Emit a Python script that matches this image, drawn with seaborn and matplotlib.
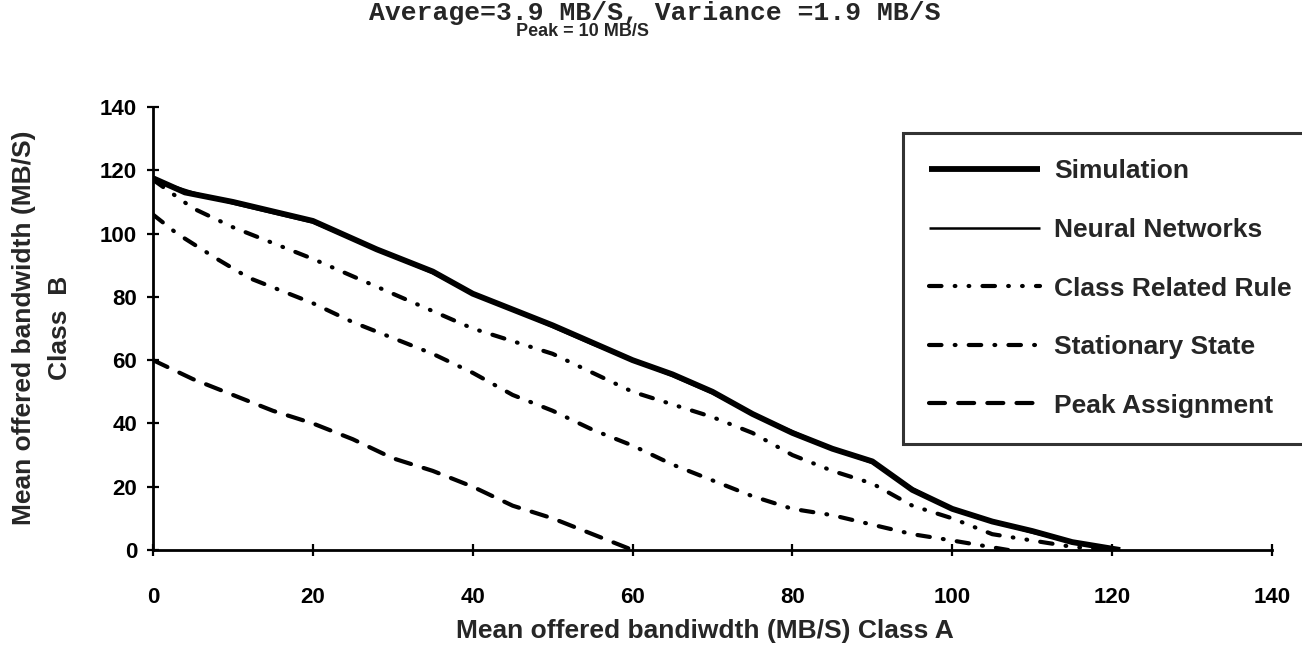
import matplotlib
matplotlib.use("Agg")
import matplotlib.pyplot as plt
import seaborn as sns
import pandas as pd

sns.set_theme(style="white")
plt.rcParams["font.family"] = ["Liberation Sans", "DejaVu Sans"]
plt.rcParams["lines.scale_dashes"] = False

# Class A offered bandwidth (x) vs admissible Class B bandwidth (y), MB/S
sim_x = [0, 4, 10, 20, 28, 35, 40, 45, 50, 55, 60, 65, 70, 75, 80, 85, 90, 95, 100, 105, 110, 115, 121]
sim_y = [117.5, 113, 110, 104, 95, 88, 81, 76, 71, 65.5, 60, 55.5, 50, 43, 37, 32, 28, 19, 13, 9, 6, 2.5, 0]

nn_x = [0, 5, 10, 20, 28, 35, 40, 45, 50, 55, 60, 65, 70, 75, 80, 85, 90, 95, 100, 105, 110, 115, 121]
nn_y = [117, 113, 109.5, 103.5, 95, 87.5, 81, 76, 70.5, 65, 60, 55, 49.5, 43, 37.5, 32, 27.5, 19.5, 13, 9, 5.5, 2.5, 0]

crr_x = [0, 5, 10, 20, 30, 40, 45, 50, 55, 60, 65, 70, 75, 80, 85, 90, 95, 100, 105, 110, 115, 120]
crr_y = [117, 108, 102, 92, 81, 70, 66, 62, 56, 50, 46, 42, 37, 30, 25, 21, 14, 10, 5, 3, 1, 0]

ss_x = [0, 3, 8, 12, 15, 20, 25, 30, 35, 40, 45, 50, 55, 60, 65, 70, 75, 80, 85, 90, 95, 100, 107]
ss_y = [106, 100, 92, 86, 83, 78, 72, 67, 62, 56, 49, 44, 38, 33, 27, 22, 17, 13, 11, 8, 5, 3, 0]

peak_x = [0, 5, 10, 15, 20, 25, 30, 35, 40, 45, 50, 55, 60]
peak_y = [60, 54, 49, 44, 40, 35, 29, 25, 20, 14, 10, 5, 0]

series_names = ["Simulation", "Neural Networks", "Class Related Rule",
                "Stationary State", "Peak Assignment"]
x_ticks = [0, 20, 40, 60, 80, 100, 120, 140]
y_ticks = [0, 20, 40, 60, 80, 100, 120, 140]

styles = [
    dict(lw=4.2, ls="-"),
    dict(lw=1.8, ls="-"),
    dict(lw=3.0, ls=(0, (9, 9.5, 0.5, 9.5, 0.5, 9.5))),
    dict(lw=3.0, ls=(0, (9, 9.5, 0.6, 9.5))),
    dict(lw=3.0, ls=(0, (11.5, 9.5))),
]
data = [(sim_x, sim_y), (nn_x, nn_y), (crr_x, crr_y), (ss_x, ss_y), (peak_x, peak_y)]

fig = plt.figure(figsize=(13.02, 6.51), dpi=100)
ax = fig.add_axes([153 / 1302, 1 - 550 / 651, (1272 - 153) / 1302, (550 - 107) / 651])

for name, (xs, ys), st in zip(series_names, data, styles):
    df = pd.DataFrame({"x": xs, "y": ys})
    sns.lineplot(data=df, x="x", y="y", ax=ax, color="black", label=name,
                 linewidth=st["lw"], linestyle=st["ls"], sort=False,
                 estimator=None, solid_capstyle="butt", dash_capstyle="round")

ax.set_xlim(0, 140)
ax.set_ylim(0, 140)
ax.set_xticks(x_ticks)
ax.set_yticks(y_ticks)
ax.set_xlabel("")
ax.set_ylabel("")
for s in ["top", "right"]:
    ax.spines[s].set_visible(False)
for s in ["left", "bottom"]:
    ax.spines[s].set_color("black")
    ax.spines[s].set_linewidth(2.0)
ax.tick_params(axis="both", which="major", bottom=True, left=True,
               direction="inout", length=9, width=1.6, colors="black",
               labelsize=16)
ax.tick_params(axis="x", pad=22)
ax.tick_params(axis="y", pad=7)
for lbl in ax.get_xticklabels() + ax.get_yticklabels():
    lbl.set_fontweight("bold")

leg = ax.legend(loc="upper left", bbox_to_anchor=(903 / 1302, 1 - 133 / 651),
                bbox_transform=fig.transFigure, frameon=True, fancybox=False,
                prop=dict(weight="bold", size=19), handlelength=4.2,
                handletextpad=0.53, labelspacing=1.31, borderpad=1.0,
                borderaxespad=0)
leg.get_frame().set_edgecolor("black")
leg.get_frame().set_linewidth(2.2)

fig.text(655 / 1302, 1 - 13 / 651, "Average=3.9 MB/S, Variance =1.9 MB/S",
         ha="center", va="center", fontsize=19, fontweight="bold",
         family=["Liberation Mono", "DejaVu Sans Mono"])
fig.text(582 / 1302, 1 - 31 / 651, "Peak = 10 MB/S", ha="center", va="center",
         fontsize=13, fontweight="bold")
fig.text(705 / 1302, 1 - 631 / 651, "Mean offered bandiwdth (MB/S) Class A",
         ha="center", va="center", fontsize=19, fontweight="bold")
fig.text(42 / 1302, 1 - 328 / 651, "Mean offered bandwidth (MB/S)\nClass  B",
         ha="center", va="center", rotation=90, fontsize=19, fontweight="bold",
         multialignment="center", linespacing=1.65)

fig.savefig("out.png", dpi=100, facecolor="white")
